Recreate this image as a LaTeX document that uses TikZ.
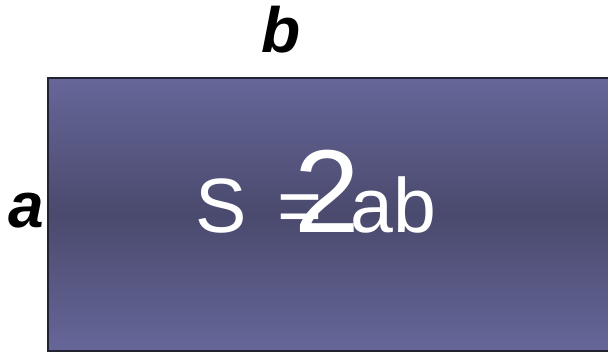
\documentclass[tikz,border=0pt]{standalone}
\usepackage{fontspec}
\setmainfont{Liberation Sans}
\definecolor{boxedge}{HTML}{666699}
\definecolor{boxmid}{HTML}{4A4A6E}
\definecolor{boxline}{HTML}{222233}
\begin{document}
\begin{tikzpicture}[x=1pt,y=1pt,
  formula/.style={inner sep=0pt,text=white,anchor=base west,font=\fontsize{77}{90}\selectfont},
  side/.style={inner sep=0pt,text=black,anchor=base,font=\fontsize{64}{70}\selectfont\bfseries\itshape}]
\useasboundingbox (0,0) rectangle (608,352);
\clip (0,0) rectangle (608,352);
\shade[top color=boxedge,bottom color=boxedge,middle color=boxmid]
  (48,1) rectangle (620,274);
\draw[boxline,line width=1.5pt] (620,1) -- (48,1) -- (48,274) -- (620,274);
\node[formula] (s) at (195.5,119) {S};
\node[formula] (eq) at (277.5,119) {=};
\node[formula] (ab) at (350,119) {ab};
\node[formula,font=\fontsize{118}{130}\selectfont] (two) at (294.5,119) {2};
\node[side] (b) at (281,299) {b};
\node[side] (a) at (26,124) {a};
\end{tikzpicture}
\end{document}
